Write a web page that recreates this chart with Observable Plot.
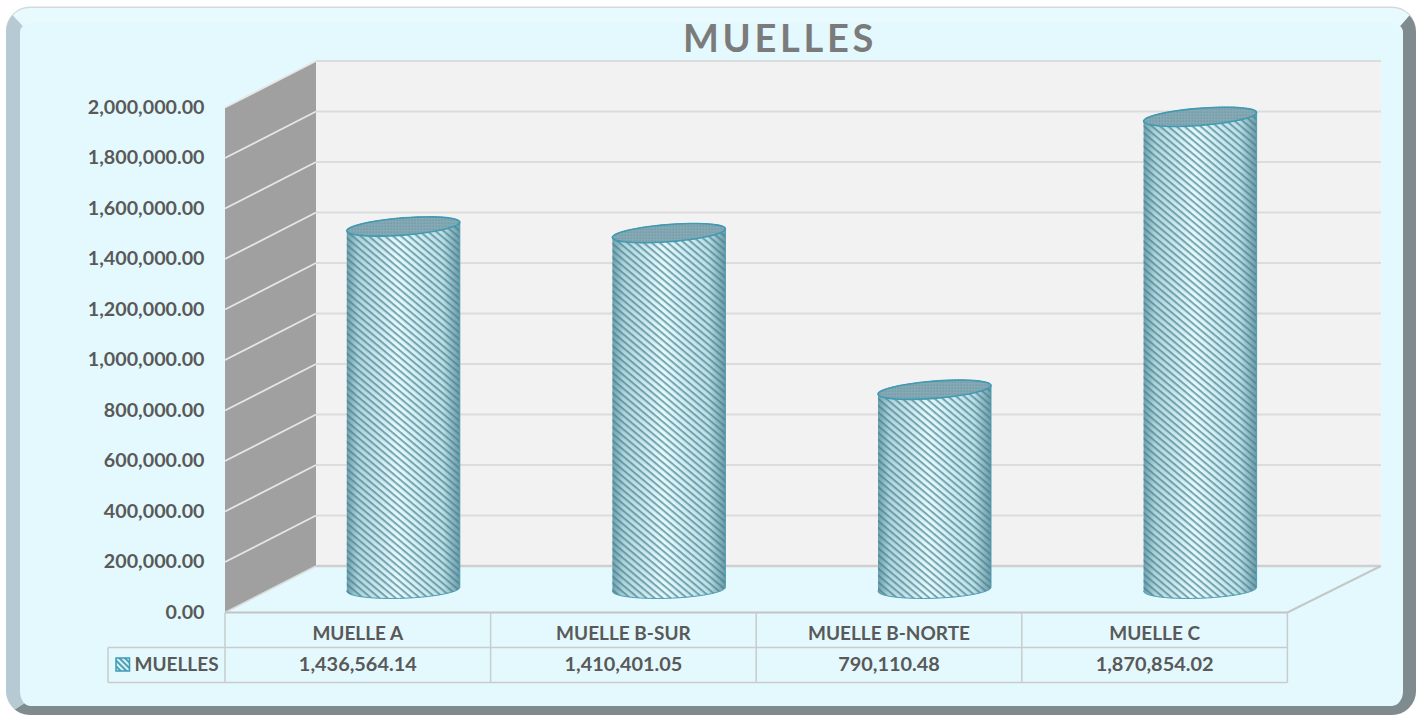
<!DOCTYPE html>
<html>
<head>
<meta charset="utf-8">
<script src="https://cdn.jsdelivr.net/npm/d3@7"></script>
<script src="https://cdn.jsdelivr.net/npm/@observablehq/plot@0.6"></script>
<style>
html,body{margin:0;padding:0;background:#fff;overflow:hidden;width:1425px;height:715px}
#frame{position:absolute;left:6px;top:8px;width:1383px;height:683px;background:#e4f9fe;
 border-style:solid;border-width:15px 13px 9px 14px;border-color:#e8fafd #7f8b8e #7f8b8e #b5cad3;
 border-radius:24px;box-shadow:0 -1.5px 0 #d3dada}
#chart{position:absolute;left:0;top:0}
svg{display:block}
.ttl text{letter-spacing:3.7px}
.cyl{filter:blur(0.5px)}
</style>
</head>
<body>
<div id="frame"></div>
<div id="chart"></div>
<script>
const title = "MUELLES";
const categories = ["MUELLE A", "MUELLE B-SUR", "MUELLE B-NORTE", "MUELLE C"];
const values = [1436564.14, 1410401.05, 790110.48, 1870854.02];
const axisTicks = [0, 200000, 400000, 600000, 800000, 1000000, 1200000, 1400000, 1600000, 1800000, 2000000];

// Pixel-per-unit of the oblique projection: data space is (category units, value units)
const W = 1425, H = 715, mLeft = 224.5, mTop = 60, mBottom = 103;
const kx = 265.6, ky = 505 / 2000000;           // px per unit
const depthX = 91 / kx, depthY = 46.5 / ky;     // chart depth expressed in data units
const n = categories.length;
const px = p => p / kx, py = p => p / ky;
const backRight = n + depthX + px(2.5);
const mRight = W - mLeft - backRight * kx;

const fmt = d3.format(",.2f");
const row1 = -py(35), row2 = -py(70);

// cylinder outlines, in data units, standing at mid depth
const rx = px(56.5);
function ellipse(i, v, ry, tilt, from, to) {
  const out = [];
  for (let s = 0; s <= 48; s++) {
    const t = from + (to - from) * s / 48;
    out.push({i, x: i + 0.5 + depthX / 2 + rx * Math.cos(t),
                 y: v + depthY / 2 - py(ry) * Math.sin(t) + py(tilt) * Math.cos(t)});
  }
  return out;
}
const capRy = 8.6, capTilt = 4.3, baseRy = 9, baseTilt = 2;
const bodies = values.flatMap((v, i) => [
  ...ellipse(i, v, capRy, capTilt, Math.PI, 2 * Math.PI),
  ...ellipse(i, 0, baseRy, baseTilt, 0, Math.PI)
]);
const caps = values.flatMap((v, i) => ellipse(i, v, capRy, capTilt, 0, 2 * Math.PI));

const wallFill = "#a0a0a0", backFill = "#f2f2f2", gridBack = "#dcdcdc", gridSide = "#e6e6e6",
      tableLine = "#c8cccc", textCol = "#595959";
const font = {fontFamily: "Lato, Carlito, sans-serif", fontWeight: 700};

const polygon = (pts, o) => Plot.line(pts, {x: "x", y: "y", ...o});

const chart = Plot.plot({
  width: W, height: H,
  marginLeft: mLeft, marginRight: mRight, marginTop: mTop, marginBottom: mBottom,
  style: {background: "transparent", overflow: "visible"},
  x: {domain: [0, backRight], range: [mLeft, W - mRight], axis: null},
  y: {domain: [0, 2000000 + depthY], range: [H - mBottom, H - mBottom - 505 - 46.5], axis: null},
  marks: [
    // back wall
    polygon([{x: depthX, y: depthY}, {x: backRight, y: depthY}, {x: backRight, y: 2000000 + depthY}, {x: depthX, y: 2000000 + depthY}, {x: depthX, y: depthY}], {fill: backFill, stroke: "none"}),
    // side wall
    polygon([{x: 0, y: 0}, {x: depthX, y: depthY}, {x: depthX, y: 2000000 + depthY}, {x: 0, y: 2000000}, {x: 0, y: 0}], {fill: wallFill, stroke: "none"}),
    // gridlines on back and side wall
    Plot.link(axisTicks.filter(d => d > 0), {x1: depthX, x2: backRight, y1: d => d + depthY, y2: d => d + depthY, stroke: gridBack, strokeWidth: 1.8}),
    Plot.link(axisTicks.filter(d => d > 0), {x1: 0, x2: depthX, y1: d => d, y2: d => d + depthY, stroke: gridSide, strokeWidth: 1.8}),
    // floor edges
    Plot.link([0], {x1: depthX, x2: backRight, y1: depthY, y2: depthY, stroke: "#cfcfcf", strokeWidth: 2.5}),
    Plot.link([0], {x1: n, x2: backRight, y1: 0, y2: depthY, stroke: "#c4c8c9", strokeWidth: 2}),
    Plot.link([0], {x1: 0, x2: depthX, y1: 0, y2: depthY, stroke: "#d8dcdc", strokeWidth: 1.5}),
    // table
    Plot.link([0], {x1: 0, x2: n, y1: 0, y2: 0, stroke: "#c0c4c5", strokeWidth: 2.2}),
    Plot.link([row1], {x1: -px(117), x2: n, y1: d => d, y2: d => d, stroke: tableLine, strokeWidth: 1.5}),
    Plot.link([row2], {x1: -px(117), x2: n, y1: d => d, y2: d => d, stroke: tableLine, strokeWidth: 1.5}),
    Plot.link(d3.range(n + 1), {x1: d => d, x2: d => d, y1: 0, y2: row2, stroke: tableLine, strokeWidth: 1.5}),
    Plot.link([-px(117)], {x1: d => d, x2: d => d, y1: row1, y2: row2, stroke: tableLine, strokeWidth: 1.5}),
    // cylinders
    polygon(bodies, {z: "i", fill: "url(#shade)", stroke: "none", className: "cyl"}),
    polygon(bodies, {z: "i", fill: "url(#hatch)", stroke: "none", className: "cyl"}),
    polygon(bodies, {z: "i", fill: "none", stroke: "#4d9db2", strokeWidth: 1, className: "cyl"}),
    polygon(caps, {z: "i", fill: "url(#capFill)", stroke: "#3f9ab2", strokeWidth: 1.6, className: "cyl"}),
    // y axis
    Plot.axisY(axisTicks, {anchor: "left", tickSize: 0, tickPadding: 20.5, label: null, tickFormat: fmt, fontSize: 19.7, fill: textCol, ...font}),
    // table text
    Plot.text(categories, {x: (d, i) => i + 0.5, y: row1 / 2 - py(3.5), text: d => d, fontSize: 19, fill: textCol, ...font}),
    Plot.text(values, {x: (d, i) => i + 0.5, y: (row1 + row2) / 2, text: d => fmt(d), fontSize: 19.9, fill: textCol, ...font}),
    Plot.text([title], {x: -px(90.5), y: (row1 + row2) / 2, text: d => d, textAnchor: "start", fontSize: 19, fill: textCol, ...font}),
    // legend key
    Plot.rect([0], {x1: -px(108.5), x2: -px(95), y1: (row1 + row2) / 2 - py(6.5), y2: (row1 + row2) / 2 + py(6.5), fill: "url(#key)", stroke: "#3f9ab2", strokeWidth: 1.5}),
    // title
    Plot.text([title], {frameAnchor: "top", dx: -23, dy: -35, text: d => d, fontSize: 38, fill: "#7b7b7b", ...font, className: "ttl"})
  ]
});

d3.select(chart).append("defs").html(`
  <linearGradient id="shade" x1="0" x2="1" y1="0" y2="0">
    <stop offset="0" stop-color="#6e9fac"/>
    <stop offset="0.1" stop-color="#b0d4dc"/>
    <stop offset="0.45" stop-color="#e6fafd"/>
    <stop offset="0.85" stop-color="#bcdfe6"/>
    <stop offset="1" stop-color="#6d9aa7"/>
  </linearGradient>
  <pattern id="hatch" patternUnits="userSpaceOnUse" width="5.2" height="5.2" patternTransform="rotate(40)">
    <rect width="5.2" height="2" fill="#44808f" fill-opacity="0.68"/>
  </pattern>
  <pattern id="capFill" patternUnits="userSpaceOnUse" width="3" height="3">
    <rect width="3" height="3" fill="#88acb6"/>
    <rect width="1.4" height="1.4" fill="#64909d"/>
  </pattern>
  <pattern id="key" patternUnits="userSpaceOnUse" width="4" height="4" patternTransform="rotate(45)">
    <rect width="4" height="4" fill="#d7f3f9"/>
    <rect width="4" height="2" fill="#4f9fb5"/>
  </pattern>`);
document.getElementById("chart").appendChild(chart);
</script>
</body>
</html>
